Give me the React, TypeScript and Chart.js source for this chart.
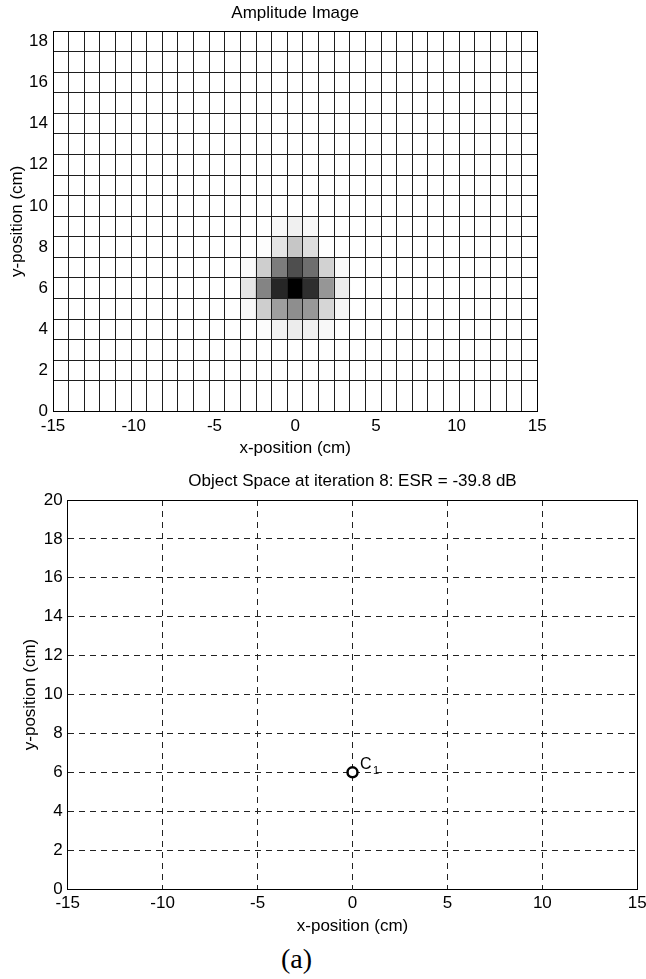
import React, { useEffect, useRef } from "react";
import { Chart, registerables } from "chart.js";

Chart.register(...registerables);

const SANS = "'Liberation Sans', Arial, Helvetica, sans-serif";
const SERIF = "'Liberation Serif', 'Times New Roman', serif";

// ---------------- shared labels ----------------
const xAxisLabel = "x-position (cm)";
const yAxisLabel = "y-position (cm)";
const xTickStep = 5;
const yTickStep = 2;

// ---------------- top panel: amplitude image ----------------
const ampTitle = "Amplitude Image";
const ampXRange = [-15, 15];
const ampYRange = [0, 18.5];
const ampCellCount = 31; // image columns across the x range
const ampRowEdges = [1.5, 2.5, 3.5, 4.5, 5.5, 6.5, 7.5, 8.5, 9.5, 10.5, 11.5, 12.5, 13.5, 14.5, 15.5, 16.5, 17.5];
const ampColumnCenters = [-2.903, -1.935, -0.968, 0, 0.968, 1.935, 2.903];
const ampRowCenters = [9, 8, 7, 6, 5, 4];
const ampGray = [
  [255, 255, 248, 240, 248, 255, 255],
  [255, 253, 228, 198, 222, 254, 255],
  [250, 206, 124, 78, 110, 210, 250],
  [230, 132, 38, 0, 46, 150, 236],
  [248, 206, 158, 142, 152, 214, 246],
  [255, 252, 242, 236, 240, 248, 255],
];

// ---------------- bottom panel: object space ----------------
const objTitle = "Object Space at iteration 8: ESR = -39.8 dB";
const objXRange = [-15, 15];
const objYRange = [0, 20];
const objX = [0];
const objY = [6];
const objNames = ["C"];
const objSubscripts = ["1"];

const caption = "(a)";

const CANVAS_W = 680;
const font = { family: SANS, size: 17, weight: "normal" as const, lineHeight: 1.2 };

const labelPlugin = {
  id: "subscriptLabels",
  afterDatasetsDraw(chart: any) {
    const meta = chart.getDatasetMeta(0);
    const ctx = chart.ctx;
    meta.data.forEach((el: any, i: number) => {
      const { x, y } = el.getProps(["x", "y"], true);
      ctx.save();
      ctx.fillStyle = "#000";
      ctx.textBaseline = "alphabetic";
      ctx.textAlign = "left";
      ctx.font = `16px ${SANS}`;
      ctx.fillText(objNames[i], x + 7.5, y - 3.4);
      const w = ctx.measureText(objNames[i]).width;
      ctx.font = `11px ${SANS}`;
      ctx.fillText(objSubscripts[i], x + 7.5 + w + 1.5, y + 1.8);
      ctx.restore();
    });
  },
};

export default function App() {
  const topRef = useRef<HTMLCanvasElement>(null);
  const botRef = useRef<HTMLCanvasElement>(null);

  useEffect(() => {
    const colEdges = Array.from(
      { length: ampCellCount + 1 },
      (_, i) => ampXRange[0] + (i * (ampXRange[1] - ampXRange[0])) / ampCellCount
    );

    const top = new Chart(topRef.current as HTMLCanvasElement, {
      type: "bar",
      data: {
        datasets: ampRowCenters.map((row, r) => ({
          data: ampColumnCenters.map((x) => ({ x, y: [row - 0.5, row + 0.5] })),
          backgroundColor: ampGray[r].map((g) => `rgb(${g},${g},${g})`),
          borderWidth: 0,
          grouped: false,
          barPercentage: 1,
          categoryPercentage: 1,
          xAxisID: "x",
          yAxisID: "y",
        })) as any,
      },
      options: {
        responsive: false,
        animation: false,
        devicePixelRatio: 1,
        events: [],
        layout: { padding: { left: 0, top: 0, right: CANVAS_W - 537.3, bottom: 1.8 } },
        plugins: {
          legend: { display: false },
          tooltip: { enabled: false },
          title: {
            display: true,
            text: ampTitle,
            color: "#000",
            font,
            padding: { top: 3, bottom: 7.6 },
            fullSize: false,
          } as any,
        },
        scales: {
          x: {
            type: "linear",
            position: "bottom",
            min: ampXRange[0],
            max: ampXRange[1],
            offset: false,
            grid: { display: false, drawTicks: false, offset: false },
            border: { display: true, color: "#000", width: 1, z: 2 },
            ticks: { stepSize: xTickStep, color: "#000", font, padding: 4.8, maxRotation: 0, autoSkip: false },
            title: { display: true, text: xAxisLabel, color: "#000", font, padding: { top: 0, bottom: 0 } },
            afterFit: (s: any) => {
              s.height = 46.5;
            },
          },
          y: {
            type: "linear",
            position: "left",
            min: ampYRange[0],
            max: ampYRange[1],
            grid: { display: false, drawTicks: false },
            border: { display: true, color: "#000", width: 1, z: 2 },
            ticks: { stepSize: yTickStep, includeBounds: false, color: "#000", font, padding: 5 },
            title: { display: true, text: yAxisLabel, color: "#000", font, padding: { top: 7.3, bottom: 0 } },
            afterFit: (s: any) => {
              s.width = 53;
            },
          },
          x2: {
            type: "linear",
            position: "top",
            min: ampXRange[0],
            max: ampXRange[1],
            offset: false,
            grid: { display: true, color: "#1e1e1e", lineWidth: 1, drawTicks: false, offset: false, z: 1 },
            border: { display: true, color: "#000", width: 1, z: 2 },
            ticks: { display: false, autoSkip: false },
            afterBuildTicks: (s: any) => {
              s.ticks = colEdges.map((v) => ({ value: v }));
            },
            afterFit: (s: any) => {
              s.height = 0;
            },
          },
          y2: {
            type: "linear",
            position: "right",
            min: ampYRange[0],
            max: ampYRange[1],
            grid: { display: true, color: "#1e1e1e", lineWidth: 1, drawTicks: false, z: 1 },
            border: { display: true, color: "#000", width: 1, z: 2 },
            ticks: { display: false, autoSkip: false },
            afterBuildTicks: (s: any) => {
              s.ticks = ampRowEdges.map((v) => ({ value: v }));
            },
            afterFit: (s: any) => {
              s.width = 0;
            },
          },
        } as any,
      },
    });

    const dash = [6, 5];
    const bot = new Chart(botRef.current as HTMLCanvasElement, {
      type: "scatter",
      data: {
        datasets: [
          {
            data: objX.map((x, i) => ({ x, y: objY[i] })),
            pointRadius: 5,
            pointHoverRadius: 5,
            borderWidth: 2.5,
            borderColor: "#000",
            backgroundColor: "#fff",
            showLine: false,
          },
        ],
      },
      plugins: [labelPlugin],
      options: {
        responsive: false,
        animation: false,
        devicePixelRatio: 1,
        events: [],
        layout: { padding: { left: 0, top: 0, right: CANVAS_W - 637.3, bottom: 3.1 } },
        plugins: {
          legend: { display: false },
          tooltip: { enabled: false },
          title: {
            display: true,
            text: objTitle,
            color: "#000",
            font,
            padding: { top: 11.5, bottom: 8.1 },
            fullSize: false,
          } as any,
        },
        scales: {
          x: {
            type: "linear",
            position: "bottom",
            min: objXRange[0],
            max: objXRange[1],
            grid: { display: true, color: "#222", lineWidth: 1, drawTicks: false },
            border: { display: true, color: "#000", width: 1, dash },
            ticks: { stepSize: xTickStep, color: "#000", font, padding: 3.8, maxRotation: 0, autoSkip: false },
            title: { display: true, text: xAxisLabel, color: "#000", font, padding: { top: 0, bottom: 0 } },
            afterFit: (s: any) => {
              s.height = 47.9;
            },
          },
          y: {
            type: "linear",
            position: "left",
            min: objYRange[0],
            max: objYRange[1],
            grid: { display: true, color: "#222", lineWidth: 1, drawTicks: false },
            border: { display: true, color: "#000", width: 1, dash },
            ticks: { stepSize: yTickStep, color: "#000", font, padding: 5 },
            title: { display: true, text: yAxisLabel, color: "#000", font, padding: { top: 19.8, bottom: 0 } },
            afterFit: (s: any) => {
              s.width = 67.7;
            },
          },
          x2: {
            type: "linear",
            position: "top",
            min: objXRange[0],
            max: objXRange[1],
            grid: { display: false, drawTicks: false },
            border: { display: true, color: "#000", width: 1 },
            ticks: { display: false },
            afterFit: (s: any) => {
              s.height = 0;
            },
          },
          y2: {
            type: "linear",
            position: "right",
            min: objYRange[0],
            max: objYRange[1],
            grid: { display: false, drawTicks: false },
            border: { display: true, color: "#000", width: 1 },
            ticks: { display: false },
            afterFit: (s: any) => {
              s.width = 0;
            },
          },
        } as any,
      },
    });

    return () => {
      top.destroy();
      bot.destroy();
    };
  }, []);

  return (
    <div
      style={{
        position: "fixed",
        left: 0,
        top: 0,
        width: 646,
        height: 979,
        overflow: "hidden",
        background: "#fff",
      }}
    >
      <canvas
        ref={topRef}
        width={CANVAS_W}
        height={460}
        style={{ position: "absolute", left: 0, top: 0, width: CANVAS_W, height: 460 }}
      />
      <canvas
        ref={botRef}
        width={CANVAS_W}
        height={480}
        style={{ position: "absolute", left: 0, top: 460, width: CANVAS_W, height: 480 }}
      />
      <div
        style={{
          position: "absolute",
          left: 0,
          top: 942,
          width: 593,
          textAlign: "center",
          fontFamily: SERIF,
          fontSize: 28,
          lineHeight: "34px",
          color: "#000",
        }}
      >
        {caption}
      </div>
    </div>
  );
}
